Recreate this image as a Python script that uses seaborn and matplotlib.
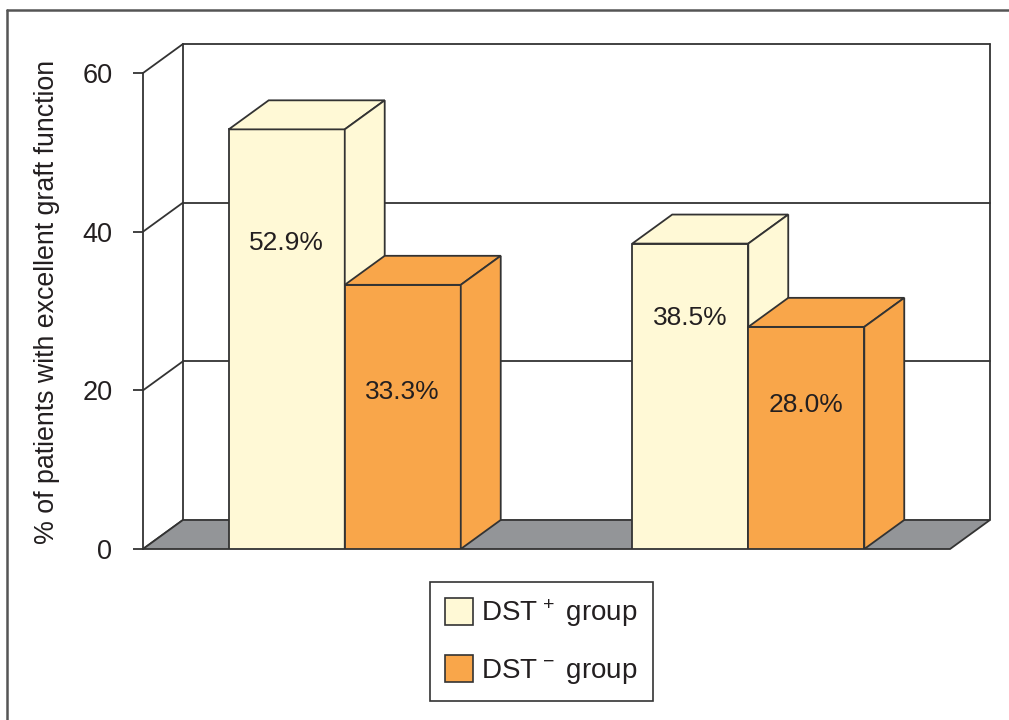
import numpy as np
import pandas as pd
import matplotlib.pyplot as plt
import matplotlib.patches as mpatches
from matplotlib.lines import Line2D
import seaborn as sns

# ── dados ─────────────────────────────────────────────────────────────────────
groups = ["Cohort 1", "Cohort 2"]
series = ["DST+", "DST-"]
dst_pos = [52.9, 38.5]
dst_neg = [33.3, 28.0]
yticks = [0, 20, 40, 60]
legend_labels = [r"DST$^{\,+}$ group", r"DST$^{\,-}$ group"]

df = pd.DataFrame({
    "group": groups * 2,
    "series": [series[0]] * 2 + [series[1]] * 2,
    "pct": dst_pos + dst_neg,
})

CREAM = "#FFF9D6"
ORANGE = "#F9A64A"
FLOOR = "#939598"
EDGE = "#333333"
TXT = "#231F20"

sns.set_style("white")
plt.rcParams["font.family"] = ["Liberation Sans", "DejaVu Sans"]
plt.rcParams["mathtext.fontset"] = "custom"
plt.rcParams["mathtext.rm"] = "Liberation Sans"
plt.rcParams["mathtext.it"] = "Liberation Sans"

fig = plt.figure(figsize=(10.09, 7.20), dpi=100)
ax = fig.add_axes([143 / 1009, 1 - 549 / 720, 847 / 1009, 505 / 720])

sns.barplot(data=df, x="group", y="pct", hue="series", palette=[CREAM, ORANGE],
            saturation=1, width=0.575, gap=0, edgecolor=EDGE, linewidth=1.3,
            legend=False, errorbar=None, ax=ax)

# profundidade 3D (em unidades de dados)
dx, dy = 0.099, 3.66
x0, x1 = -0.5, 1.5
top = max(yticks)
ax.set_xlim(x0, x1 + dx)
ax.set_ylim(0, top + dy)

# ── parede do fundo, grades e chão ───────────────────────────────────────────
lk = dict(color=EDGE, lw=1.3, zorder=1, clip_on=False)
ax.plot([x0 + dx, x0 + dx], [dy, top + dy], **lk)
ax.plot([x1 + dx, x1 + dx], [dy, top + dy], **lk)
ax.plot([x0 + dx, x1 + dx], [top + dy, top + dy], **lk)
for v in yticks[1:-1]:
    ax.plot([x0 + dx, x1 + dx], [v + dy, v + dy], **lk)
for v in yticks:
    ax.plot([x0, x0 + dx], [v, v + dy], **lk)
ax.add_patch(mpatches.Polygon([(x0, 0), (x1, 0), (x1 + dx, dy), (x0 + dx, dy)],
                              closed=True, facecolor=FLOOR, edgecolor=EDGE,
                              lw=1.3, zorder=1.5, clip_on=False))

# ── barras 3D: topo + lateral ────────────────────────────────────────────────
bars = sorted([p for p in ax.patches if isinstance(p, mpatches.Rectangle)
               and p.get_height() > 0], key=lambda p: p.get_x())
label_frac = [0.73, 0.595, 0.755, 0.65]
for i, p in enumerate(bars):
    bx, bw, bh = p.get_x(), p.get_width(), p.get_height()
    fc = p.get_facecolor()
    z = 3 + i
    p.set_zorder(z)
    topf = [(bx, bh), (bx + bw, bh), (bx + bw + dx, bh + dy), (bx + dx, bh + dy)]
    side = [(bx + bw, 0), (bx + bw, bh), (bx + bw + dx, bh + dy), (bx + bw + dx, dy)]
    for poly in (topf, side):
        ax.add_patch(mpatches.Polygon(poly, closed=True, facecolor=fc,
                                      edgecolor=EDGE, lw=1.3, zorder=z))
    ax.text(bx + bw / 2, bh * label_frac[i], f"{bh:.1f}%", ha="center",
            va="center", fontsize=19, color=TXT, zorder=z + 0.5)

# ── eixos ────────────────────────────────────────────────────────────────────
for s in ["top", "right", "bottom"]:
    ax.spines[s].set_visible(False)
ax.spines["left"].set_bounds(0, top)
ax.spines["left"].set_color(EDGE)
ax.spines["left"].set_linewidth(1.3)
ax.spines["left"].set_zorder(2)
ax.set_xticks([])
ax.set_xlabel("")
ax.set_yticks(yticks)
ax.tick_params(axis="y", length=7, width=1.3, color=EDGE, pad=15,
               labelsize=19.5, labelcolor=TXT, left=True)
ax.set_ylabel("% of patients with excellent graft function", fontsize=19.3,
              color=TXT)
ax.yaxis.set_label_coords(-0.098, 0.49)

# ── legenda ──────────────────────────────────────────────────────────────────
handles = [mpatches.Patch(facecolor=c, edgecolor=EDGE, lw=1.2)
           for c in (CREAM, ORANGE)]
leg = fig.legend(handles, legend_labels, loc="upper left",
                 bbox_to_anchor=(430 / 1009, 1 - 582 / 720),
                 bbox_transform=fig.transFigure, borderaxespad=0,
                 fontsize=20, frameon=True, fancybox=False, framealpha=1,
                 handlelength=1.0, handleheight=1.1, labelspacing=0.95,
                 handletextpad=0.3, borderpad=0.55)
leg.get_frame().set_edgecolor(EDGE)
leg.get_frame().set_linewidth(1.2)
for t in leg.get_texts():
    t.set_color(TXT)

# moldura externa (só topo e esquerda visíveis)
fig.add_artist(Line2D([7 / 1009, 1], [1 - 10 / 720, 1 - 10 / 720],
                      transform=fig.transFigure, color="#555555", lw=1.8))
fig.add_artist(Line2D([7 / 1009, 7 / 1009], [0, 1 - 10 / 720],
                      transform=fig.transFigure, color="#555555", lw=1.8))

fig.savefig("out.png", dpi=100)
